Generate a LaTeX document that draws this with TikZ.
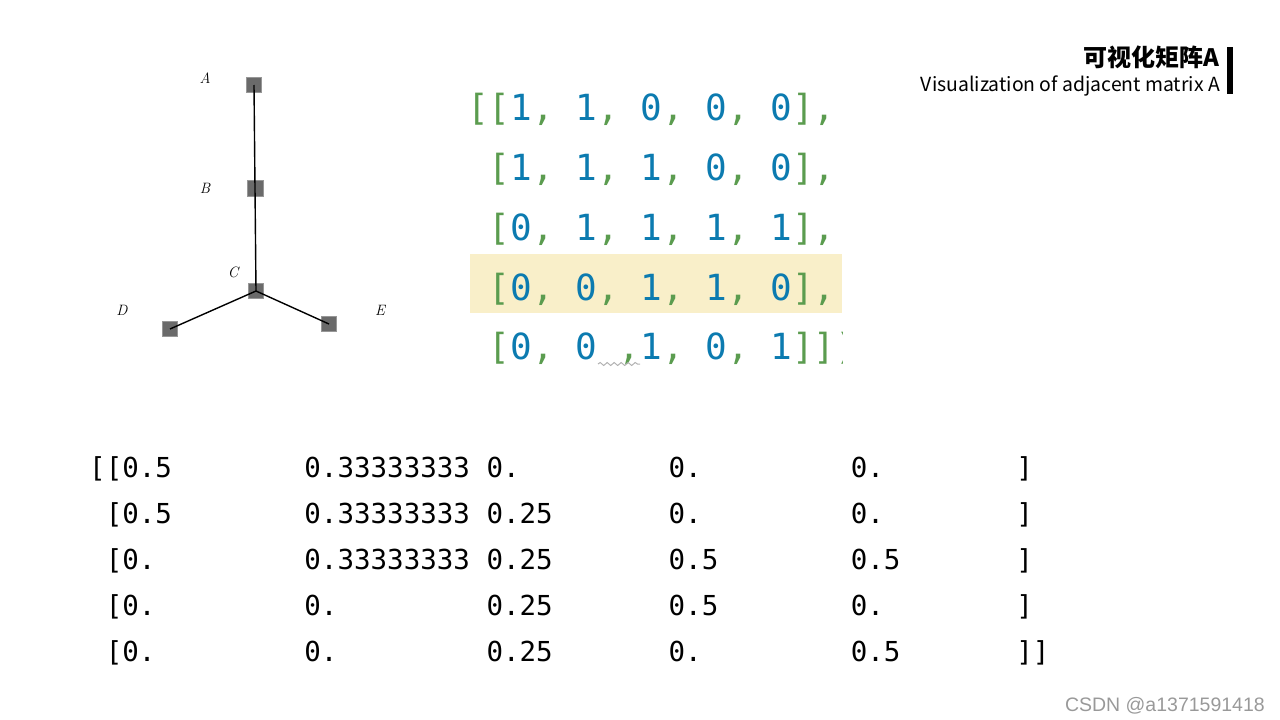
\documentclass[tikz,border=0pt]{standalone}
\usepackage{fontspec}
\usetikzlibrary{decorations.pathmorphing}
\newfontfamily\codefont{DejaVu Sans Mono}
\newfontfamily\cjkfont{Noto Sans CJK SC}
\newfontfamily\markfont{Liberation Sans}
\definecolor{brk}{HTML}{5B9C4F}
\definecolor{num}{HTML}{0C7BB0}
\definecolor{hl}{HTML}{F9EFC9}
\definecolor{vtxgray}{HTML}{6A6A6A}
\newcommand{\gap}[1]{\hspace*{#1\fontdimen2\font}}
\newcommand{\bk}[1]{\textcolor{brk}{#1}}
\newcommand{\nm}[1]{\textcolor{num}{#1}}
\newcommand{\cell}[1]{\nm{#1}\bk{,}\gap{1}}
\begin{document}
\begin{tikzpicture}[x=1pt, y=-1pt,
  vtx/.style={fill=vtxgray, draw=vtxgray!70, minimum size=15pt, inner sep=0pt},
  vlbl/.style={font=\fontsize{15}{15}\selectfont\itshape, inner sep=0pt},
  code/.style={anchor=base west, inner sep=0pt, font=\codefont\fontsize{36}{40}\selectfont},
  arr/.style={anchor=base west, inner sep=0pt, font=\codefont\fontsize{27.5}{30}\selectfont}]
  \useasboundingbox (0,0) rectangle (1280,720);

  % Graph
  \node[vtx] (A) at (254,85) {};
  \node[vtx, minimum size=16pt] (B) at (255,188) {};
  \node[vtx] (C) at (256,291) {};
  \node[vtx] (D) at (170,329) {};
  \node[vtx] (E) at (329,324) {};
  \draw[line width=1.4pt] (A.center) -- (B.center) -- (C.center);
  \draw[line width=1.4pt] (C.center) -- (D.center);
  \draw[line width=1.4pt] (C.center) -- (E.center);
  \node[vlbl] (la) at (205,78) {A};
  \node[vlbl] (lb) at (205,188) {B};
  \node[vlbl] (lc) at (233,272) {C};
  \node[vlbl] (ld) at (122,310) {D};
  \node[vlbl] (le) at (380,310) {E};

  % Adjacency matrix
  \fill[hl] (470,254) rectangle (842,313);
  \begin{scope}
    \clip (460,60) rectangle (842,380);
    \node[code] (r1) at (467,120) {\bk{[[}\cell{1}\cell{1}\cell{0}\cell{0}\nm{0}\bk{],}};
    \node[code] (r2) at (467,180) {\gap{1}\bk{[}\cell{1}\cell{1}\cell{1}\cell{0}\nm{0}\bk{],}};
    \node[code] (r3) at (467,240) {\gap{1}\bk{[}\cell{0}\cell{1}\cell{1}\cell{1}\nm{1}\bk{],}};
    \node[code] (r4) at (467,300) {\gap{1}\bk{[}\cell{0}\cell{0}\cell{1}\cell{1}\nm{0}\bk{],}};
    \node[code] (r5) at (467,359) {\gap{1}\bk{[}\cell{0}\nm{0}\gap{1}\bk{,}\cell{1}\cell{0}\nm{1}\bk{]])}};
  \end{scope}
  \draw[black!30, line width=1pt, decorate,
    decoration={snake, amplitude=1.5pt, segment length=7pt}] (598,364) -- (640,364);

  % Normalized matrix
  \node[arr] (n1) at (89,477) {[[0.5\gap{8}0.33333333\gap{1}0.\gap{9}0.\gap{9}0.\gap{8}]};
  \node[arr] (n2) at (89,523) {\gap{1}[0.5\gap{8}0.33333333\gap{1}0.25\gap{7}0.\gap{9}0.\gap{8}]};
  \node[arr] (n3) at (89,569) {\gap{1}[0.\gap{9}0.33333333\gap{1}0.25\gap{7}0.5\gap{8}0.5\gap{7}]};
  \node[arr] (n4) at (89,615) {\gap{1}[0.\gap{9}0.\gap{9}0.25\gap{7}0.5\gap{8}0.\gap{8}]};
  \node[arr] (n5) at (89,661) {\gap{1}[0.\gap{9}0.\gap{9}0.25\gap{7}0.\gap{9}0.5\gap{7}]]};

  % Title
  \node[anchor=base east, inner sep=0pt, font=\cjkfont\bfseries\fontsize{24}{26}\selectfont] (title) at (1220,66) {可视化矩阵A};
  \node[anchor=base east, inner sep=0pt, font=\cjkfont\fontsize{19.4}{21}\selectfont] (sub) at (1220,91) {Visualization of adjacent matrix A};
  \fill (1227,47) rectangle (1233,94);

  % Watermark
  \node[anchor=base east, inner sep=0pt, text=black!40, font=\markfont\fontsize{19.5}{21}\selectfont] (wm) at (1265,711) {CSDN @a1371591418};
\end{tikzpicture}
\end{document}
